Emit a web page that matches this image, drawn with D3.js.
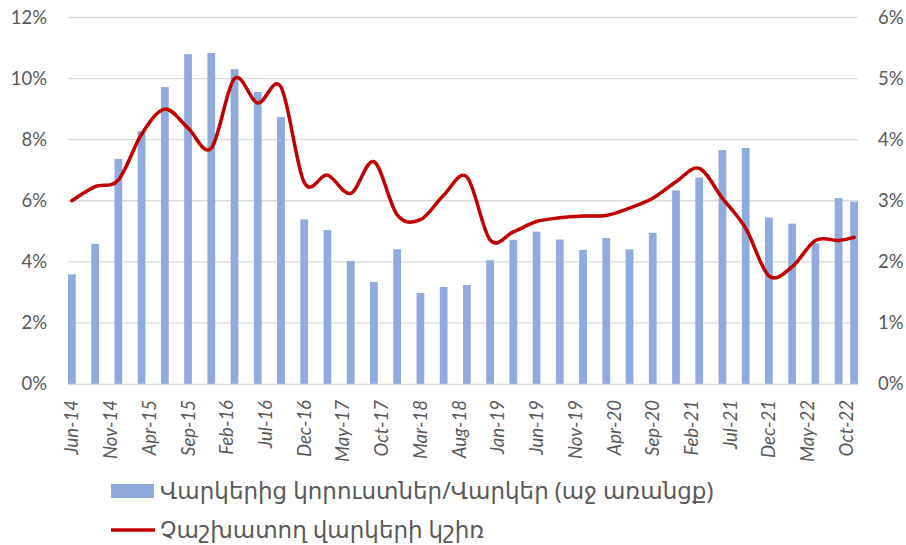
<!DOCTYPE html>
<html>
<head>
<meta charset="utf-8">
<script src="https://cdn.jsdelivr.net/npm/d3@7"></script>
<style>
  body { margin: 0; background: #fff; }
  .tick-label { font-family: Lato, "Open Sans", sans-serif; fill: #595959; }
  .legend-label { font-family: "Noto Sans", "DejaVu Sans", sans-serif; fill: #595959; }
</style>
</head>
<body>
<div id="chart"></div>
<script>
// quarterly observations (last one is Nov-22)
const periods = ['2014-06','2014-09','2014-12','2015-03','2015-06','2015-09','2015-12',
  '2016-03','2016-06','2016-09','2016-12','2017-03','2017-06','2017-09','2017-12',
  '2018-03','2018-06','2018-09','2018-12','2019-03','2019-06','2019-09','2019-12',
  '2020-03','2020-06','2020-09','2020-12','2021-03','2021-06','2021-09','2021-12',
  '2022-03','2022-06','2022-09','2022-11'];

// Loan losses / loans, % (left axis)
const lossRatio = [3.59, 4.59, 7.37, 8.28, 9.72, 10.80, 10.84, 10.31, 9.56, 8.74, 5.39,
  5.04, 4.03, 3.34, 4.41, 2.98, 3.18, 3.24, 4.05, 4.72, 4.99, 4.73, 4.39, 4.78, 4.41,
  4.95, 6.34, 6.76, 7.66, 7.73, 5.45, 5.25, 4.61, 6.09, 5.97];

// Non-performing loans share, % (right axis)
const nplShare = [3.00, 3.23, 3.34, 4.09, 4.50, 4.19, 3.86, 5.00, 4.60, 4.86, 3.30,
  3.42, 3.12, 3.64, 2.77, 2.69, 3.09, 3.39, 2.36, 2.49, 2.66, 2.72, 2.75, 2.76, 2.88,
  3.04, 3.31, 3.53, 3.04, 2.55, 1.77, 1.92, 2.35, 2.35, 2.40];

const tickLabels = ['Jun-14','Nov-14','Apr-15','Sep-15','Feb-16','Jul-16','Dec-16',
  'May-17','Oct-17','Mar-18','Aug-18','Jan-19','Jun-19','Nov-19','Apr-20','Sep-20',
  'Feb-21','Jul-21','Dec-21','May-22','Oct-22'];

const leftTicks = [0, 2, 4, 6, 8, 10, 12];
const rightTicks = [0, 1, 2, 3, 4, 5, 6];

const seriesNames = ['Վարկերից կորուստներ/Վարկեր (աջ առանցք)', 'Չաշխատող վարկերի կշիռ'];

const W = 906, H = 545;
const plot = { left: 68, right: 858, top: 17.5, bottom: 384 };

const svg = d3.select('#chart').append('svg')
  .attr('width', W).attr('height', H);

const key = d3.timeFormat('%Y-%m');
const parseKey = d3.timeParse('%Y-%m');
const parseTick = d3.timeParse('%b-%y');
const months = d3.timeMonth.range(parseKey(periods[0]), d3.timeMonth.offset(parseKey(periods[periods.length - 1]), 1)).map(key);

const x = d3.scaleBand().domain(months).range([plot.left, plot.right]).padding(0);
const yLeft = d3.scaleLinear().domain([0, 12]).range([plot.bottom, plot.top]);
const yRight = d3.scaleLinear().domain([0, 6]).range([plot.bottom, plot.top]);

// gridlines
svg.append('g')
  .selectAll('line')
  .data(leftTicks.slice(1))
  .join('line')
  .attr('x1', plot.left).attr('x2', plot.right)
  .attr('y1', d => yLeft(d)).attr('y2', d => yLeft(d))
  .attr('stroke', '#d9d9d9').attr('stroke-width', 1.3);

// left axis
const leftAxis = svg.append('g')
  .attr('transform', 'translate(' + plot.left + ',0)')
  .call(d3.axisLeft(yLeft).tickValues(leftTicks).tickFormat(d => d + '%').tickSize(0).tickPadding(21));
leftAxis.select('.domain').remove();
leftAxis.selectAll('text').attr('class', 'tick-label').style('font-size', '18.5px');

// right axis
const rightAxis = svg.append('g')
  .attr('transform', 'translate(' + plot.right + ',0)')
  .call(d3.axisRight(yRight).tickValues(rightTicks).tickFormat(d => d + '%').tickSize(0).tickPadding(20));
rightAxis.select('.domain').remove();
rightAxis.selectAll('text').attr('class', 'tick-label').style('font-size', '18.5px');

// bars
svg.append('g')
  .selectAll('rect')
  .data(periods)
  .join('rect')
  .attr('x', d => x(d))
  .attr('width', x.bandwidth())
  .attr('y', (d, i) => yLeft(lossRatio[i]))
  .attr('height', (d, i) => plot.bottom - yLeft(lossRatio[i]))
  .attr('fill', '#8faadc');

// bottom axis
const bottomAxis = svg.append('g')
  .attr('transform', 'translate(0,' + plot.bottom + ')')
  .call(d3.axisBottom(x)
    .tickValues(tickLabels.map(t => key(parseTick(t))))
    .tickFormat(d => d3.timeFormat('%b-%y')(parseKey(d)))
    .tickSize(0));
bottomAxis.select('.domain')
  .attr('stroke', '#d9d9d9').attr('stroke-width', 1.5);
bottomAxis.selectAll('text')
  .attr('class', 'tick-label')
  .style('font-size', '18.5px')
  .style('font-style', 'italic')
  .attr('transform', 'rotate(-90)')
  .attr('x', -16).attr('y', 0).attr('dy', '0.35em')
  .attr('text-anchor', 'end');

// line
const line = d3.line()
  .x((d, i) => x(periods[i]) + x.bandwidth() / 2)
  .y(d => yRight(d))
  .curve(d3.curveCardinal.tension(0));

svg.append('path')
  .datum(nplShare)
  .attr('d', line)
  .attr('fill', 'none')
  .attr('stroke', '#c00000')
  .attr('stroke-width', 3.5)
  .attr('stroke-linecap', 'round');

// legend
const legend = svg.append('g');
legend.append('rect')
  .attr('x', 111).attr('y', 484).attr('width', 43).attr('height', 14)
  .attr('fill', '#8faadc');
legend.append('line')
  .attr('x1', 111).attr('x2', 155).attr('y1', 530).attr('y2', 530)
  .attr('stroke', '#c00000').attr('stroke-width', 3.5);
legend.selectAll('text')
  .data(seriesNames)
  .join('text')
  .attr('class', 'legend-label')
  .attr('x', 160)
  .attr('y', (d, i) => 491 + i * 39)
  .attr('dy', '0.35em')
  .style('font-size', '23px')
  .text(d => d);
</script>
</body>
</html>
